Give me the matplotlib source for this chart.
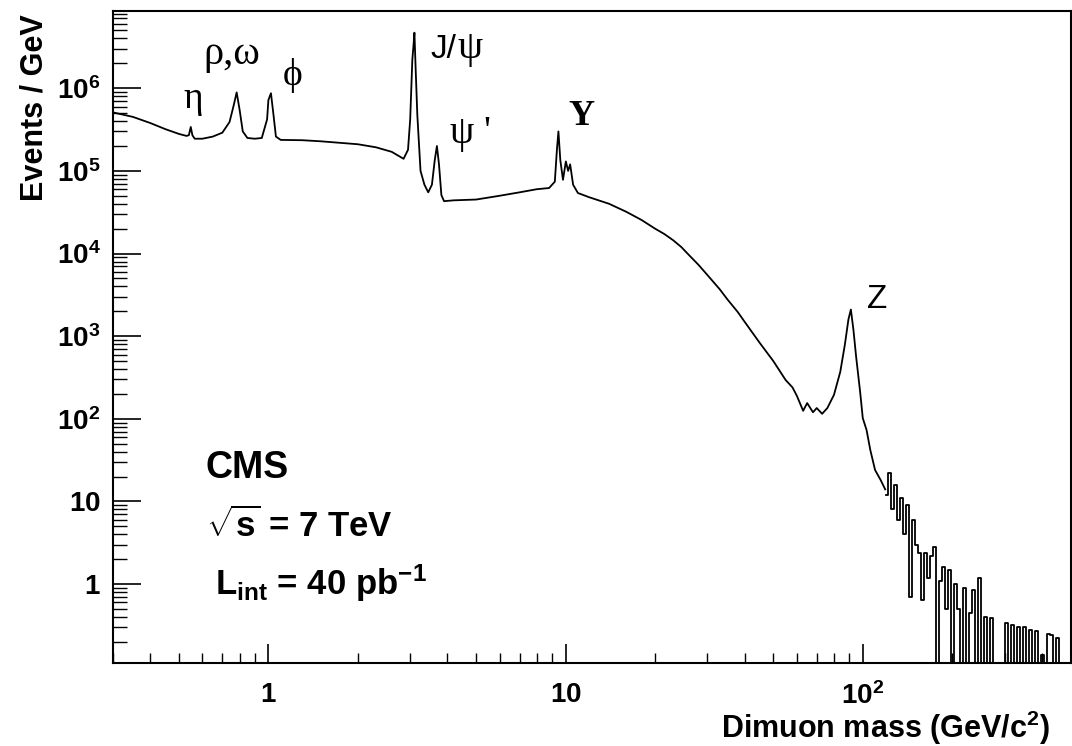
import numpy as np
import matplotlib.pyplot as plt
from matplotlib.ticker import FixedLocator, LogLocator, NullFormatter

plt.rcParams['font.family'] = ['Liberation Sans', 'DejaVu Sans']
plt.rcParams['font.weight'] = 'bold'
plt.rcParams['mathtext.fontset'] = 'custom'
plt.rcParams['mathtext.rm'] = 'Liberation Sans'
plt.rcParams['mathtext.bf'] = 'Liberation Sans:bold'
plt.rcParams['mathtext.it'] = 'Liberation Sans:italic'

# dimuon invariant mass spectrum up to ~120 GeV (events / GeV)
mass = [0.30, 0.35, 0.40, 0.45, 0.50, 0.53, 0.54, 0.548, 0.555, 0.565,
        0.60, 0.65, 0.70, 0.74, 0.765, 0.782, 0.80, 0.82, 0.85, 0.90,
        0.95, 0.99, 1.00, 1.02, 1.04, 1.06, 1.10, 1.30, 1.50, 1.70,
        2.00, 2.30, 2.60, 2.85, 2.95, 3.00, 3.05, 3.08, 3.10, 3.13,
        3.17, 3.25, 3.35, 3.45, 3.55, 3.63, 3.69, 3.75, 3.82, 3.90,
        4.2, 5.0, 6.0, 7.0, 8.0, 8.8, 9.2, 9.35, 9.46, 9.6,
        9.8, 10.02, 10.2, 10.36, 10.6, 11.0, 12.0, 14.0, 16.0, 18.0,
        20.0, 21.5, 23.0, 24.5, 26.0, 28.0, 30.0, 33.0, 35.0, 38.0,
        40.0, 45.0, 50.0, 55.0, 58.0, 60.0,
        63.0, 65.0, 68.0, 70.0, 73.0, 76.0, 80.0, 84.0, 87.0, 89.5,
        91.2, 93.0, 95.0, 98.0, 100, 103, 106, 110, 115, 119]
events = [5.1e5, 4.5e5, 3.8e5, 3.2e5, 2.8e5, 2.65e5, 2.7e5, 3.4e5, 2.7e5, 2.45e5,
          2.45e5, 2.6e5, 2.9e5, 3.9e5, 6.3e5, 8.9e5, 5.5e5, 3.0e5, 2.5e5, 2.45e5,
          2.5e5, 4.2e5, 7.2e5, 8.7e5, 4.8e5, 2.6e5, 2.37e5, 2.35e5, 2.28e5, 2.2e5,
          2.1e5, 1.93e5, 1.7e5, 1.4e5, 1.8e5, 4.2e5, 2.2e6, 3.4e6, 4.7e6, 1.7e6,
          4.8e5, 1.0e5, 6.8e4, 5.5e4, 6.8e4, 1.36e5, 2.0e5, 1.2e5, 5.1e4, 4.3e4,
          4.4e4, 4.5e4, 5.0e4, 5.5e4, 6.0e4, 6.2e4, 7.4e4, 1.8e5, 3.0e5, 1.35e5,
          7.8e4, 1.3e5, 1.0e5, 1.2e5, 6.8e4, 5.4e4, 4.8e4, 4.0e4, 3.2e4, 2.55e4,
          2.0e4, 1.72e4, 1.45e4, 1.2e4, 9.6e3, 7.3e3, 5.5e3, 3.7e3, 2.8e3, 1.95e3,
          1.5e3, 830, 500, 295, 240, 190,
          125, 155, 120, 135, 115, 135, 195, 370, 780, 1.6e3,
          2.1e3, 1.2e3, 560, 210, 102, 73, 42, 24, 18, 14]

# high-mass tail, one value per bin (0 = empty bin)
tail_mass = [120.1, 122.9, 125.9, 128.8, 131.8, 134.9, 138.1, 141.3, 144.6, 148.0,
             151.5, 155.1, 158.7, 162.4, 166.3, 170.2, 174.2, 178.3, 182.4, 186.7,
             191.1, 195.6, 200.3, 205.0, 209.8, 214.7, 219.7, 224.9, 230.1, 235.5,
             241.1, 246.7, 252.5, 258.5, 264.5, 270.8, 277.1, 283.6, 290.3, 297.1,
             304.1, 311.2, 318.5, 326.0, 333.6, 341.5, 349.5, 357.7, 366.1, 374.7,
             383.5, 392.5, 401.8, 411.2, 420.9, 430.8, 440.9, 451.3, 461.9, 472.7,
             483.8, 495.2]
tail_events = [12, 22, 8, 16, 6, 11, 4, 9, 0.7, 6,
               3, 2.4, 0.65, 2.4, 1.2, 2.2, 2.8, 0, 1.1, 1.6,
               0.5, 1.5, 0, 1.0, 0.5, 0, 0.9, 0, 0.45, 0.85,
               0, 1.2, 0, 0.4, 0, 0.39, 0, 0, 0, 0,
               0.34, 0, 0.32, 0, 0.3, 0, 0.3, 0, 0.28, 0,
               0.27, 0, 0.14, 0, 0.25, 0.24, 0, 0.22, 0, 0,
               0, 0]

fig = plt.figure(figsize=(10.72, 7.46), dpi=100)
ax = fig.add_axes([113 / 1072, 83 / 746, 957.5 / 1072, 652 / 746])

ax.plot(mass, events, color='black', lw=1.3)
ax.step(tail_mass, tail_events, where='mid', color='black', lw=1.3)

ax.set_xscale('log')
ax.set_yscale('log')
ax.set_xlim(0.3, 500)
ax.set_ylim(0.111, 8.6e6)

ax.xaxis.set_major_locator(FixedLocator([1, 10, 100]))
ax.set_xticklabels([r'$\mathbf{1}$', r'$\mathbf{10}$', r'$\mathbf{10^{2}}$'])
ax.xaxis.set_minor_locator(LogLocator(base=10, subs=np.arange(2, 10), numticks=50))
ax.xaxis.set_minor_formatter(NullFormatter())

yt = [1, 10, 1e2, 1e3, 1e4, 1e5, 1e6]
ax.yaxis.set_major_locator(FixedLocator(yt))
ax.set_yticklabels([r'$\mathbf{1}$', r'$\mathbf{10}$'] +
                   [r'$\mathbf{10^{%d}}$' % k for k in range(2, 7)])
ax.yaxis.set_minor_locator(LogLocator(base=10, subs=np.arange(2, 10), numticks=50))
ax.yaxis.set_minor_formatter(NullFormatter())

ax.tick_params(axis='y', which='major', direction='in', length=20, width=1.2,
               pad=9, labelsize=20)
ax.tick_params(axis='y', which='minor', direction='in', length=10, width=1.0)
ax.tick_params(axis='x', which='major', direction='in', length=14, width=1.2,
               pad=14, labelsize=20)
ax.tick_params(axis='x', which='minor', direction='in', length=7.5, width=1.0)
for sp in ax.spines.values():
    sp.set_linewidth(1.5)

fig.text(43 / 1072, 1 - 14 / 746, 'Events / GeV', rotation=90, ha='right',
         va='baseline', rotation_mode='anchor', fontsize=22, fontweight='bold')
fig.text(1050 / 1072, 1 - 738 / 746, r'Dimuon mass (GeV/c$^{\mathbf{2}}$)',
         ha='right', va='baseline', fontsize=22, fontweight='bold')

# resonance labels
greek = ['Liberation Serif', 'DejaVu Serif']
ax.text(0.558, 5.8e5, 'η', ha='center', va='baseline', fontsize=27,
        family=greek, fontweight='normal')
ax.text(0.603, 1.97e6, 'ρ,ω', ha='left', va='baseline', fontsize=29,
        family=greek, fontweight='normal')
ax.text(1.21, 1.1e6, '\u03d5', ha='center', va='baseline', fontsize=27,
        family=greek, fontweight='normal')
ax.text(3.50, 2.33e6, 'J/', ha='left', va='baseline', fontsize=24,
        fontweight='normal')
ax.text(4.33, 2.33e6, 'ψ', ha='left', va='baseline', fontsize=29,
        family=greek, fontweight='normal')
ax.text(4.08, 2.18e5, "ψ '", ha='left', va='baseline', fontsize=28,
        family=greek, fontweight='normal')
ax.text(11.3, 3.6e5, 'Υ', ha='center', va='baseline', fontsize=26,
        family=greek, fontweight='bold')
ax.text(112, 2.2e3, 'Z', ha='center', va='baseline', fontsize=24,
        fontweight='normal')

# experiment / run conditions
ax.text(0.615, 19.2, 'CMS', ha='left', va='baseline', fontsize=27,
        fontweight='bold')
ax.text(0.615, 3.7, r'$\sqrt{\mathbf{s}}$ = 7 TeV', ha='left', va='baseline',
        fontsize=25, fontweight='bold')
ax.text(0.662, 0.736, r'$\mathbf{L}_{\mathrm{int}}$ = 40 pb$^{\mathbf{-1}}$',
        ha='left', va='baseline', fontsize=25, fontweight='bold')

fig.savefig('out.png', dpi=100)
